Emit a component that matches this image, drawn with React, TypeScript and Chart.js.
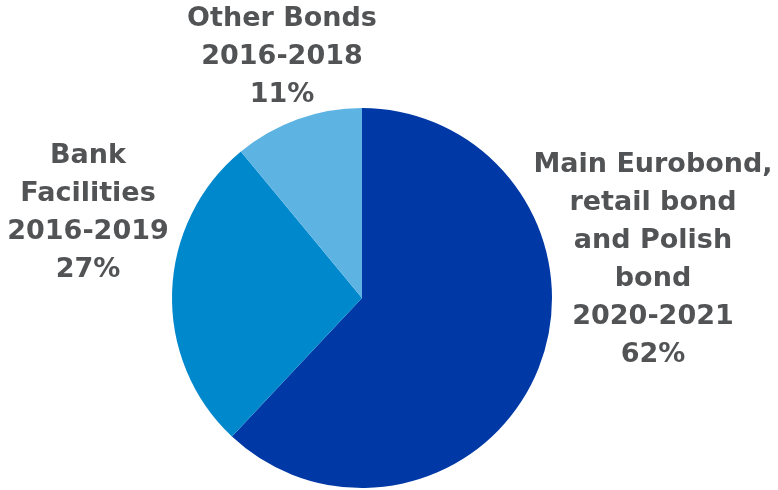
import React, { useEffect, useRef } from "react";
import { Chart, registerables } from "chart.js";

Chart.register(...registerables);

const categories = ["Main Eurobond, retail bond and Polish bond 2020-2021", "Bank Facilities 2016-2019", "Other Bonds 2016-2018"];
const shares = [62, 27, 11];
const labelLines = [
  ["Main Eurobond,", "retail bond", "and Polish", "bond", "2020-2021", "62%"],
  ["Bank", "Facilities", "2016-2019", "27%"],
  ["Other Bonds", "2016-2018", "11%"],
];
const colors = ["#0039A6", "#0088CC", "#5DB4E3"];
// label block centres (x, first-line y)
const labelAnchors = [
  [653, 165],
  [88, 156],
  [282, 19],
];

const outerLabels = {
  id: "outerLabels",
  afterDraw(chart: any) {
    const ctx = chart.ctx;
    ctx.save();
    ctx.font = "bold 27px 'DejaVu Sans'";
    ctx.fillStyle = "#525355";
    ctx.textAlign = "center";
    ctx.textBaseline = "middle";
    labelLines.forEach((lines, i) => {
      const [x, y] = labelAnchors[i];
      lines.forEach((t, j) => ctx.fillText(t, x, y + j * 38));
    });
    ctx.restore();
  },
};

export default function App() {
  const ref = useRef<HTMLCanvasElement>(null);
  useEffect(() => {
    const chart = new Chart(ref.current!, {
      type: "pie",
      data: {
        labels: categories,
        datasets: [{ data: shares, backgroundColor: colors, borderWidth: 0 }],
      },
      options: {
        animation: false,
        responsive: false,
        maintainAspectRatio: false,
        layout: { padding: { left: 172, right: 226, top: 108, bottom: 2 } },
        plugins: { legend: { display: false }, tooltip: { enabled: false } },
      },
      plugins: [outerLabels],
    });
    return () => chart.destroy();
  }, []);
  return (
    <div style={{ position: "absolute", left: 0, top: 0, width: 778, height: 490, background: "#fff" }}>
      <canvas ref={ref} width={778} height={490} />
    </div>
  );
}
